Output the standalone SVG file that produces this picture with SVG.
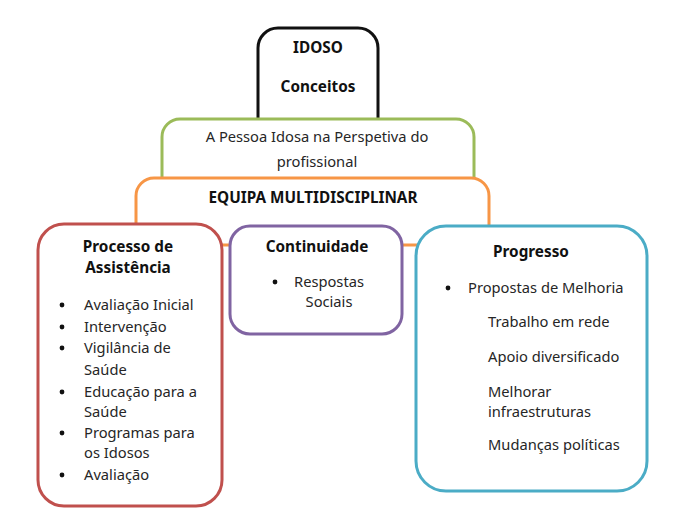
<svg xmlns="http://www.w3.org/2000/svg" width="676" height="520" viewBox="0 0 676 520">
<style>
.box{fill:#fff;stroke-width:3}
text{font-family:"Noto Sans","Liberation Sans",sans-serif;font-size:14.7px;fill:#262626}
.b{font-weight:bold;font-size:15.3px;fill:#111}
.c{text-anchor:middle}
.dot{fill:#111}
</style>
<rect width="676" height="520" fill="#fff"/>
<g id="idoso">
<rect class="box" x="258" y="28" width="120" height="130" rx="20" stroke="#111"/>
<text class="b c" x="318" y="53">IDOSO</text>
<text class="b c" x="318" y="92">Conceitos</text>
</g>
<g id="pessoa">
<rect class="box" x="162" y="119" width="312" height="90" rx="18" stroke="#9bbb59"/>
<text class="c" x="317" y="142">A Pessoa Idosa na Perspetiva do</text>
<text class="c" x="317" y="167">profissional</text>
</g>
<g id="equipa">
<rect class="box" x="136" y="178" width="353" height="67" rx="18" stroke="#f79646"/>
<text class="b c" x="313" y="203">EQUIPA MULTIDISCIPLINAR</text>
</g>
<g id="connectors"></g>
<g id="processo">
<rect class="box" x="38" y="224" width="184" height="282" rx="26" stroke="#c0504d"/>
<text class="b c" x="128" y="252">Processo de</text>
<text class="b c" x="128" y="273">Assistência</text>
<circle class="dot" cx="62" cy="305" r="2.4"/><text x="84" y="310">Avaliação Inicial</text>
<circle class="dot" cx="62" cy="327" r="2.4"/><text x="84" y="332">Intervenção</text>
<circle class="dot" cx="62" cy="348" r="2.4"/><text x="84" y="353">Vigilância de</text>
<text x="84" y="375">Saúde</text>
<circle class="dot" cx="62" cy="392" r="2.4"/><text x="84" y="397">Educação para a</text>
<text x="84" y="417">Saúde</text>
<circle class="dot" cx="62" cy="433" r="2.4"/><text x="84" y="438">Programas para</text>
<text x="84" y="458">os Idosos</text>
<circle class="dot" cx="62" cy="475" r="2.4"/><text x="84" y="480">Avaliação</text>
</g>
<g id="continuidade">
<rect class="box" x="230" y="226" width="172" height="108" rx="20" stroke="#8064a2"/>
<text class="b c" x="317" y="252">Continuidade</text>
<circle class="dot" cx="275" cy="282" r="2.4"/>
<text class="c" x="329" y="287">Respostas</text>
<text class="c" x="329" y="307">Sociais</text>
</g>
<g id="progresso">
<rect class="box" x="416" y="226" width="231" height="265" rx="30" stroke="#4bacc6"/>
<text class="b c" x="531" y="257">Progresso</text>
<circle class="dot" cx="448" cy="288" r="2.4"/><text x="468" y="293">Propostas de Melhoria</text>
<text x="488" y="327">Trabalho em rede</text>
<text x="488" y="362">Apoio diversificado</text>
<text x="488" y="397">Melhorar</text>
<text x="488" y="417">infraestruturas</text>
<text x="488" y="450">Mudanças políticas</text>
</g>
</svg>
